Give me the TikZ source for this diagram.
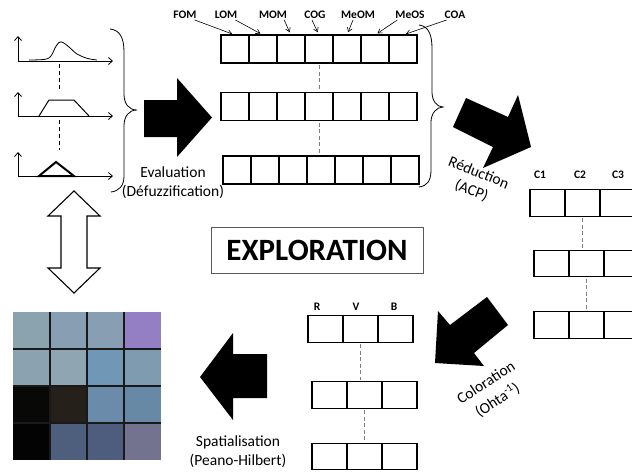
\documentclass[tikz,border=0pt]{standalone}
\usepackage{fontspec}
\setmainfont{Carlito}
\usetikzlibrary{arrows.meta}
\definecolor{ga}{HTML}{8BA2AF}
\definecolor{gb}{HTML}{889EB3}
\definecolor{gc}{HTML}{889EB2}
\definecolor{gd}{HTML}{947FC5}
\definecolor{ge}{HTML}{8BA3B1}
\definecolor{gf}{HTML}{8FA6B2}
\definecolor{gg}{HTML}{7097B5}
\definecolor{gh}{HTML}{7F9BAF}
\definecolor{gi}{HTML}{080806}
\definecolor{gj}{HTML}{252019}
\definecolor{gk}{HTML}{6A8CAA}
\definecolor{gl}{HTML}{6889A6}
\definecolor{gm}{HTML}{030303}
\definecolor{gn}{HTML}{4E5F7E}
\definecolor{go}{HTML}{4E5D7D}
\definecolor{gp}{HTML}{73728F}
\begin{document}
\begin{tikzpicture}[x=1pt,y=-1pt,
  cell/.style={draw=black, line width=1.1pt, minimum width=28pt, minimum height=28pt, inner sep=0pt, outer sep=0pt},
  cellc/.style={draw=black, line width=1.1pt, minimum width=35pt, minimum height=26.5pt, inner sep=0pt, outer sep=0pt},
  lbl/.style={font=\bfseries\fontsize{11.5}{13}\selectfont, inner sep=1pt},
  lblarrow/.style={-{Straight Barb[length=4pt,width=5pt]}, line width=0.6pt, shorten >=3pt},
  caption/.style={font=\fontsize{15.5}{19}\selectfont, align=center, inner sep=0pt},
  dgray/.style={draw=gray, dash pattern=on 4pt off 2.5pt, line width=1pt, shorten >=2pt, shorten <=2pt},
  dblack/.style={draw=black, dash pattern=on 4pt off 3pt, line width=0.9pt},
  axis/.style={-{Straight Barb[length=4pt,width=7pt]}, line width=0.8pt},
  bracestyle/.style={draw=black, line width=0.8pt},
  bigarrow/.style={fill=black, draw=none}
]
\useasboundingbox (0,0) rectangle (632,472);

% ---------- fuzzy membership graphs ----------
\draw[axis] (18,61) -- (113,61);
\draw[axis] (18,61) -- (18,36);
\draw[line width=0.8pt] plot[smooth, tension=0.6] coordinates {(29,60) (45,59.3) (51,56) (55,48) (59,42.5) (63,42.5) (69,47) (77,54) (87,58.3) (97,60)};
\draw[dblack] (59,64) -- (59,90);
\draw[axis] (18,116) -- (113,116);
\draw[axis] (18,116) -- (18,92);
\draw[line width=1pt] (39,116) -- (49,100) -- (74,100) -- (89,116);
\draw[dblack] (59,120) -- (59,150);
\draw[axis] (18,176) -- (113,176);
\draw[axis] (18,176) -- (18,152);
\draw[line width=2pt, line join=miter] (39,176) -- (56,162) -- (74,176) -- cycle;

% ---------- brace 1 ----------
\draw[bracestyle] (110,29) .. controls (120,30) and (124,38) .. (124,52) -- (124,94) .. controls (124,104) and (129,110) .. (137,110) .. controls (129,110) and (124,116) .. (124,126) -- (124,176) .. controls (124,186) and (119,191) .. (111,192);

% ---------- big arrow 1 ----------
\fill[bigarrow] (144,100) -- (177,100) -- (177,78) -- (212,117.5) -- (177,157) -- (177,137) -- (144,137) -- cycle;

\node[caption] (eval) at (173,183) {Evaluation\\(Défuzzification)};

% ---------- top rows of cells ----------
\foreach \i in {1,...,7} {
  \node[cell] (a\i) at ({207+28*\i},49) {};
  \node[cell] (b\i) at ({207+28*\i},106.5) {};
  \node[cell] (c\i) at ({209+28*\i},170) {};
}
\draw[dgray] (a4.south) -- (b4.north);
\draw[dgray] (b4.south) -- (b4.south |- c4.north);

\node[lbl] (FOM)  at (185,15) {FOM};
\node[lbl] (LOM)  at (226,15) {LOM};
\node[lbl] (MOM)  at (273,15) {MOM};
\node[lbl] (COG)  at (315,15) {COG};
\node[lbl] (MeOM) at (358,15) {MeOM};
\node[lbl] (MeOS) at (410,15) {MeOS};
\node[lbl] (COA)  at (455,15) {COA};
\draw[lblarrow] ([xshift=-3pt]FOM.south east) -- (a1.north);
\draw[lblarrow] ([xshift=-3pt]LOM.south east) -- (a2.north);
\draw[lblarrow] ([xshift=-4pt]MOM.south east) -- (a3.north);
\draw[lblarrow] ([xshift=-3pt]COG.south) -- (a4.north);
\draw[lblarrow] ([xshift=-5pt]MeOM.south) -- (a5.north);
\draw[lblarrow] ([xshift=3pt]MeOS.south west) -- (a6.north);
\draw[lblarrow] ([xshift=3pt]COA.south west) -- (a7.north);

% ---------- brace 2 ----------
\draw[bracestyle] (419,25) .. controls (428,26) and (432,34) .. (432,48) -- (432,92) .. controls (432,101) and (437,107) .. (443,107) .. controls (437,107) and (431,113) .. (431,122) -- (431,170) .. controls (431,181) and (427,186) .. (419,187);

% ---------- big arrow 2 ----------
\fill[bigarrow] (466,98) -- (508,117) -- (518,95) -- (531,147) -- (483,168) -- (493,147) -- (453,127) -- cycle;
\node[caption, rotate=-22] (reduc) at (475,182) {Réduction\\(ACP)};

% ---------- C rows ----------
\foreach \i in {1,2,3} {
  \node[cellc] (p\i) at ({512.5+35*\i},203) {};
  \node[cellc] (q\i) at ({516.5+35*\i},263.5) {};
  \node[cellc] (s\i) at ({516.5+35*\i},325) {};
}
\draw[dgray] (p2.south) -- (p2.south |- q2.north);
\draw[dgray] (q2.south) -- (q2.south |- s2.north);
\node[lbl] (C1) at (540,175) {C1};
\node[lbl] (C2) at (580,175) {C2};
\node[lbl] (C3) at (618,175) {C3};

% ---------- EXPLORATION ----------
\node[draw=black!65, line width=0.9pt, minimum width=212pt, minimum height=46pt, inner sep=0pt,
      font=\bfseries\fontsize{31}{36}\selectfont] (expl) at (317,250) {EXPLORATION};

% ---------- big arrow 3 ----------
\fill[bigarrow] (438,311) -- (450,325) -- (487,297) -- (508,325) -- (474,353) -- (484,366) -- (435,363) -- cycle;
\node[caption, rotate=33, font=\fontsize{15.5}{21}\selectfont] (color) at (492,392) {Coloration\\(Ohta\textsuperscript{-1})};

% ---------- RVB rows ----------
\foreach \i in {1,2,3} {
  \node[cellc] (u\i) at ({290.5+35*\i},329) {};
  \node[cellc] (v\i) at ({294.5+35*\i},395) {};
  \node[cellc] (w\i) at ({294.5+35*\i},456.5) {};
}
\draw[dgray] (u2.south) -- (u2.south |- v2.north);
\draw[dgray] (v2.south) -- (v2.south |- w2.north);
\node[lbl] (R) at (317,307) {R};
\node[lbl] (V) at (356,307) {V};
\node[lbl] (B) at (394,307) {B};

% ---------- big arrow 4 ----------
\fill[bigarrow] (267,354) -- (233,354) -- (233,333) -- (200,377) -- (233,420) -- (233,398) -- (267,398) -- cycle;
\node[caption] (spat) at (238,452) {Spatialisation\\(Peano-Hilbert)};

% ---------- double arrow ----------
\draw[line width=1.1pt, fill=white, line join=miter] (74,191) -- (100,216) -- (87,216) -- (87,268) -- (100,268) -- (74,293) -- (48,268) -- (61,268) -- (61,216) -- (48,216) -- cycle;

% ---------- colour grid ----------
\fill[ga] (13,312) rectangle (50,349);
\fill[gb] (50,312) rectangle (87,349);
\fill[gc] (87,312) rectangle (124,349);
\fill[gd] (124,312) rectangle (161,349);
\fill[ge] (13,349) rectangle (50,386);
\fill[gf] (50,349) rectangle (87,386);
\fill[gg] (87,349) rectangle (124,386);
\fill[gh] (124,349) rectangle (161,386);
\fill[gi] (13,386) rectangle (50,423);
\fill[gj] (50,386) rectangle (87,423);
\fill[gk] (87,386) rectangle (124,423);
\fill[gl] (124,386) rectangle (161,423);
\fill[gm] (13,423) rectangle (50,460);
\fill[gn] (50,423) rectangle (87,460);
\fill[go] (87,423) rectangle (124,460);
\fill[gp] (124,423) rectangle (161,460);
\draw[line width=1.3pt, draw=black!90] (50,312) -- (50,460) (87,312) -- (87,460) (124,312) -- (124,460)
  (13,349) -- (161,349) (13,386) -- (161,386) (13,423) -- (161,423);
\end{tikzpicture}
\end{document}
